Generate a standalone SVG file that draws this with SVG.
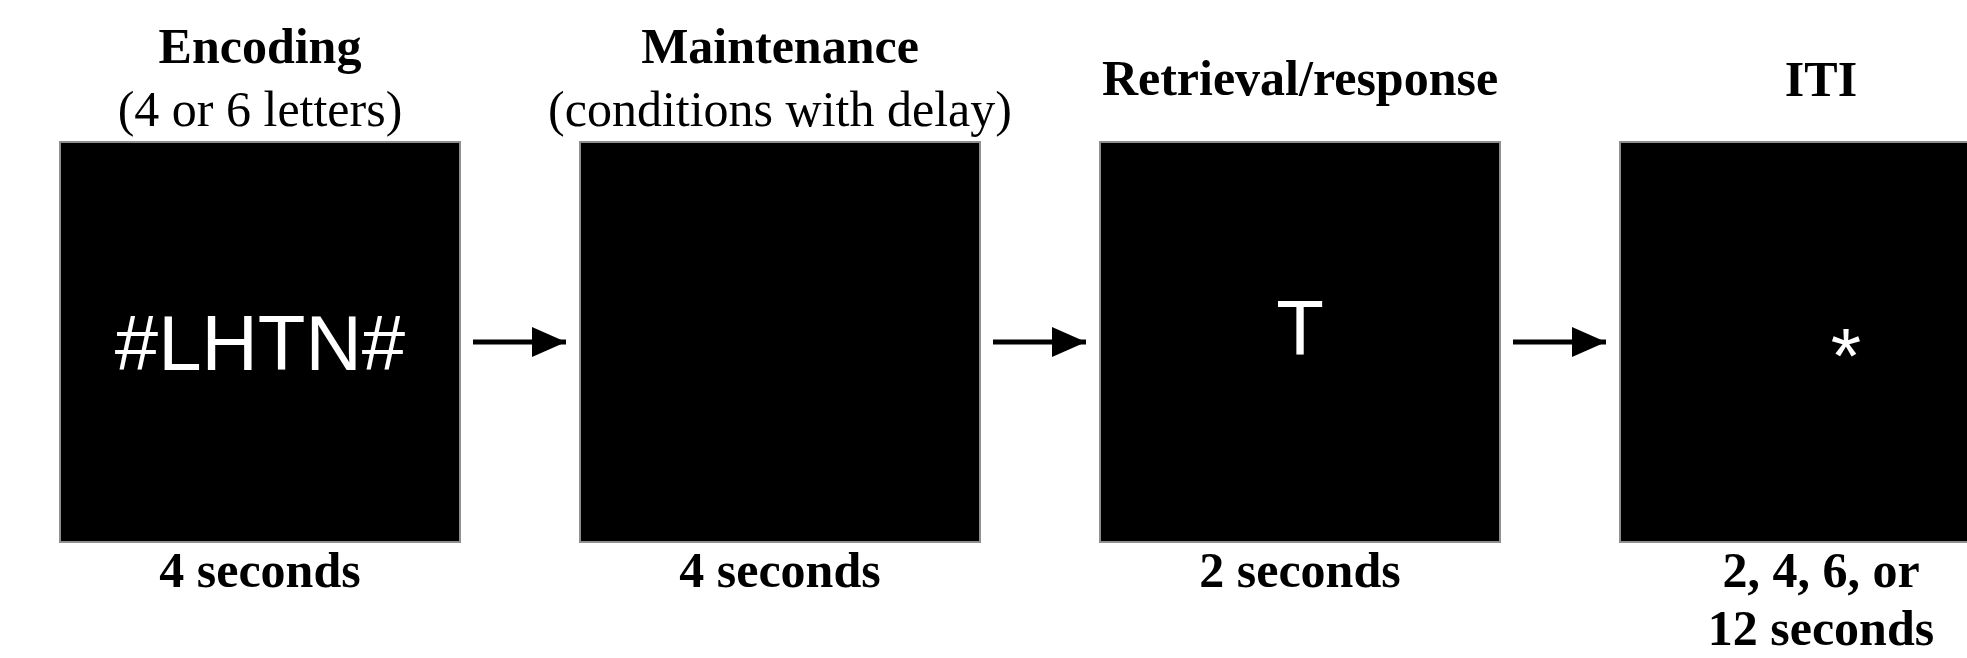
<svg xmlns="http://www.w3.org/2000/svg" width="1967" height="658" viewBox="0 0 1967 658">
<defs>
<style>
.t{font-family:"Liberation Serif","Times New Roman",serif;font-size:50px;fill:#000;text-anchor:middle}
.b{font-weight:bold}
.scr{fill:#000;stroke:#8f8f8f;stroke-width:2}
.stim{font-family:"Liberation Sans",Arial,sans-serif;font-size:78px;fill:#fff;text-anchor:middle}
.conn{stroke:#000;stroke-width:5;fill:none}
</style>
<marker id="ah" markerUnits="userSpaceOnUse" markerWidth="34" markerHeight="30" refX="34" refY="15" orient="auto">
<path d="M0,0 L34,15 L0,30 Z" fill="#000"/>
</marker>
</defs>
<rect width="1967" height="658" fill="#fff"/>
<g id="encoding">
<text class="t b" x="260" y="63">Encoding</text>
<text class="t" x="260" y="126">(4 or 6 letters)</text>
<rect class="scr" x="60" y="142" width="400" height="400"/>
<text class="stim" x="260" y="370">#LHTN#</text>
<text class="t b" x="260" y="587">4 seconds</text>
</g>
<g id="maintenance">
<text class="t b" x="780" y="63">Maintenance</text>
<text class="t" x="780" y="126">(conditions with delay)</text>
<rect class="scr" x="580" y="142" width="400" height="400"/>
<text class="t b" x="780" y="587">4 seconds</text>
</g>
<g id="retrieval">
<text class="t b" x="1300" y="95">Retrieval/response</text>
<rect class="scr" x="1100" y="142" width="400" height="400"/>
<text class="stim" x="1300" y="355">T</text>
<text class="t b" x="1300" y="587">2 seconds</text>
</g>
<g id="iti">
<text class="t b" x="1821" y="96">ITI</text>
<rect class="scr" x="1620" y="142" width="400" height="400"/>
<text class="stim" x="1846" y="383">*</text>
<text class="t b" x="1821" y="587">2, 4, 6, or</text>
<text class="t b" x="1821" y="645">12 seconds</text>
</g>
<g id="connectors">
<line class="conn" x1="473" y1="342" x2="566" y2="342" marker-end="url(#ah)"/>
<line class="conn" x1="993" y1="342" x2="1086" y2="342" marker-end="url(#ah)"/>
<line class="conn" x1="1513" y1="342" x2="1606" y2="342" marker-end="url(#ah)"/>
</g>
</svg>
